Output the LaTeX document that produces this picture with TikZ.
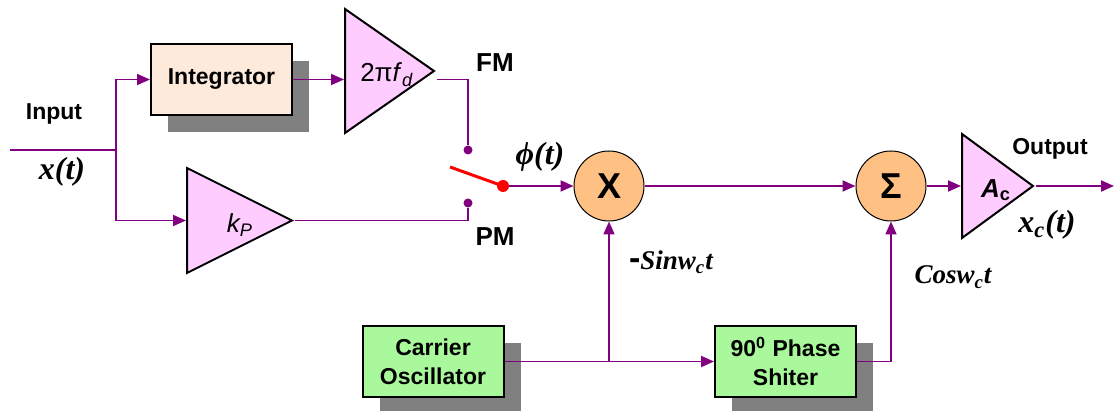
\documentclass[tikz,border=0pt]{standalone}
\usepackage{fontspec}
\setmainfont{Liberation Serif}
\setsansfont{Liberation Sans}
\usetikzlibrary{
	positioning,
	arrows.meta,
	calc,
	shapes.geometric,
	shadows
}
\definecolor{wirecol}{HTML}{800080}
\definecolor{ampfill}{HTML}{FFCCFF}
\definecolor{intfill}{HTML}{FDEADA}
\definecolor{oscfill}{HTML}{A9F89B}
\definecolor{opfill}{HTML}{FFC183}
\definecolor{shade}{HTML}{808080}

\begin{document}
\begin{tikzpicture}[
				x=0.5pt, y=-0.5pt,
				wire/.style={
					draw=wirecol,
					line width=0.9pt
				},
				arrow/.style={
					wire,
					-{Triangle[length=6.5pt,width=5.5pt]}
				},
				block/.style={
					draw,
					line width=1pt,
					minimum width=70.5pt,
					minimum height=35.5pt,
					inner sep=0pt,
					align=center,
					font=\sffamily\bfseries\fontsize{11.5}{14.5}\selectfont,
					general shadow={fill=shade, shadow xshift=8.5pt, shadow yshift=-8.5pt}
				},
				amp/.style={
					draw,
					line width=1pt,
					fill=ampfill,
					isosceles triangle,
					isosceles triangle stretches,
					inner sep=0pt,
					anchor=lower side
				},
				op/.style={
					draw,
					line width=0.5pt,
					fill=opfill,
					circle,
					minimum size=35pt,
					inner sep=0pt,
					font=\sffamily\bfseries\fontsize{18}{20}\selectfont
				},
				tag/.style={
					font=\sffamily\bfseries\fontsize{11.5}{13}\selectfont
				},
				sig/.style={
					font=\bfseries\itshape\fontsize{16}{18}\selectfont
				},
				contact/.style={
					circle,
					fill=wirecol,
					inner sep=0pt,
					minimum size=4.5pt
				}
				]
				
				\useasboundingbox (0,0) rectangle (1114,411);
				
				% blocks
				\node[block, fill=intfill] (integ) at (221.5,79.5) {Integrator};
				\node[block, fill=oscfill] (osc) at (433,361.5) {Carrier\\Oscillator};
				\node[block, fill=oscfill] (shift) at (785.5,361.5) {90\textsuperscript{0} Phase\\Shiter};
				
				% amplifiers
				\node[amp, minimum width=62pt, minimum height=44.5pt] (fd) at (344,71) {};
				\node[amp, minimum width=52.5pt, minimum height=52.5pt] (kp) at (186,220.5) {};
				\node[amp, minimum width=52pt, minimum height=35.5pt] (ac) at (961,186) {};
				\node[font=\sffamily\fontsize{13}{15}\selectfont] (fdlbl) at (387,75) {2π\textit{f}\textsubscript{\textit{d}}};
				\node[font=\sffamily\itshape\fontsize{13}{15}\selectfont] (kplbl) at (240,225) {k\textsubscript{P}};
				\node[font=\sffamily\bfseries\fontsize{13}{15}\selectfont] (aclbl) at (996,190) {\textit{A}\textsubscript{c}};
				
				% mixer and adder
				\node[op] (mult) at (609,186) {X};
				\node[op] (sum) at (891,186) {Σ};
				
				% switch
				\coordinate (in) at (10,150);
				\coordinate (split) at (116,150);
				\coordinate (out) at (1114,186);
				\coordinate (lever) at (450,167);
				\node[contact] (fm) at (468,150) {};
				\node[contact] (pm) at (468,203) {};
				\node[circle, fill=red, inner sep=0pt, minimum size=6pt] (pivot) at (503,186) {};
				
				% labels
				\node[tag] (inlbl) at (54,114) {Input};
				\node[sig] (xt) at (62,172) {x(t)};
				\node[tag, font=\sffamily\bfseries\fontsize{13}{15}\selectfont] (fmlbl) at (495,63) {FM};
				\node[tag, font=\sffamily\bfseries\fontsize{13}{15}\selectfont] (pmlbl) at (495,237) {PM};
				\node[sig] (phi) at (540,157) {\symbol{"03D5}(t)};
				\node[sig, font=\bfseries\itshape\fontsize{13.5}{15}\selectfont] (sinlbl) at (671,262) {{\sffamily\upshape\fontsize{17}{15}\selectfont -}Sinw\textsubscript{c}t};
				\node[sig, font=\bfseries\itshape\fontsize{13.5}{15}\selectfont] (coslbl) at (953,277) {Cosw\textsubscript{c}t};
				\node[tag] (outlbl) at (1050,149) {Output};
				\node[sig] (xct) at (1047,225) {x\textsubscript{c}(t)};
				
				% connections
				\draw[wire] (in) -- (split);
				\draw[arrow] (split) |- (integ.west);
				\draw[arrow] (split) |- (kp.lower side);
				\draw[arrow] (integ.east) -- (integ.east -| fd.lower side);
				\draw[wire] (fd.apex |- integ.east) -| (fm);
				\draw[wire] (kp.apex) -| (pm);
				\draw[red, line width=1.5pt] (lever) -- (pivot.center);
				\draw[arrow] (pivot) -- (mult);
				\draw[arrow] (mult) -- (sum);
				\draw[arrow] (sum) -- (ac.lower side);
				\draw[arrow] (ac.apex) -- (out);
				\draw[arrow] (osc.east) -- (shift.west);
				\draw[arrow] (mult.south |- osc.east) -- (mult.south);
				\draw[arrow] (shift.east) -| (sum.south);
				
			\end{tikzpicture}
\end{document}
